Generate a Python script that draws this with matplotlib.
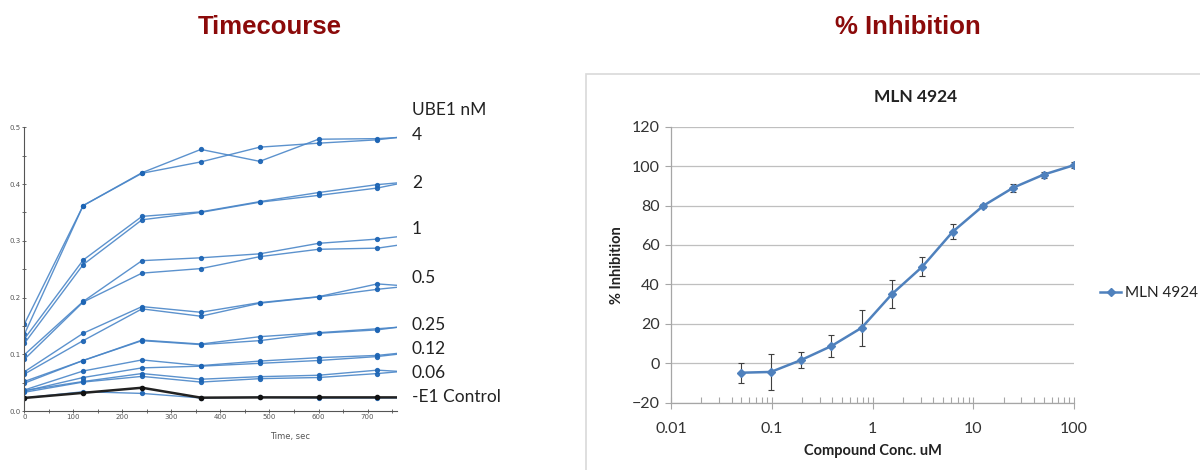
import matplotlib
matplotlib.use("Agg")
import matplotlib.pyplot as plt
import numpy as np
from matplotlib.patches import Rectangle
from matplotlib.ticker import MultipleLocator, LogLocator, NullFormatter

# ---------------- Data: Timecourse ----------------
times = [0, 120, 240, 360, 480, 600, 720, 760]
g4_a = [0.153, 0.362, 0.420, 0.461, 0.440, 0.479, 0.480, 0.482]
g4_b = [0.135, 0.362, 0.419, 0.439, 0.465, 0.472, 0.478, 0.482]
g2_a = [0.127, 0.266, 0.343, 0.351, 0.369, 0.385, 0.399, 0.402]
g2_b = [0.119, 0.258, 0.337, 0.350, 0.368, 0.380, 0.393, 0.400]
g1_a = [0.099, 0.193, 0.265, 0.270, 0.277, 0.2955, 0.303, 0.307]
g1_b = [0.091, 0.192, 0.243, 0.251, 0.272, 0.285, 0.287, 0.292]
g05_a = [0.069, 0.137, 0.184, 0.174, 0.191, 0.2015, 0.224, 0.2215]
g05_b = [0.065, 0.124, 0.180, 0.167, 0.190, 0.201, 0.2145, 0.218]
g025_a = [0.052, 0.089, 0.125, 0.118, 0.131, 0.138, 0.145, 0.1475]
g025_b = [0.049, 0.089, 0.124, 0.117, 0.124, 0.137, 0.143, 0.1475]
g012_a = [0.037, 0.0705, 0.090, 0.080, 0.088, 0.094, 0.098, 0.1015]
g012_b = [0.035, 0.059, 0.076, 0.079, 0.084, 0.089, 0.096, 0.100]
g006_a = [0.036, 0.052, 0.066, 0.056, 0.0605, 0.063, 0.072, 0.070]
g006_b = [0.033, 0.051, 0.061, 0.051, 0.057, 0.059, 0.066, 0.069]
ctrl_a = [0.023, 0.032, 0.041, 0.0235, 0.024, 0.024, 0.024, 0.024]
ctrl_b = [0.023, 0.034, 0.031, 0.023, 0.024, 0.023, 0.023, 0.023]

blue_series = [g4_a, g4_b, g2_a, g2_b, g1_a, g1_b, g05_a, g05_b,
               g025_a, g025_b, g012_a, g012_b, g006_a, g006_b, ctrl_b]

ube1_labels = ["UBE1 nM", "4", "2", "1", "0.5", "0.25", "0.12", "0.06", "-E1 Control"]

# ---------------- Data: % Inhibition ----------------
conc = [0.049, 0.098, 0.195, 0.39, 0.78, 1.56, 3.125, 6.25, 12.5, 25, 50, 100]
inhib = [-4.8, -4.4, 1.6, 8.7, 18.0, 35.1, 49.0, 66.7, 79.8, 89.1, 95.7, 100.5]
inhib_err = [5.0, 9.0, 4.0, 5.5, 9.0, 7.0, 4.8, 3.7, 1.2, 2.0, 1.5, 1.5]

W, H = 1200, 470
fig = plt.figure(figsize=(12, 4.7), dpi=100)
fig.patch.set_facecolor("white")

def fx(px):
    return px / W

def fy(py):
    return 1 - py / H

# Page titles
title_color = "#8B0A0A"
fig.text(fx(270), fy(27), "Timecourse", ha="center", va="center",
         fontsize=18.5, fontweight="bold", color=title_color, family="Liberation Sans")
fig.text(fx(908), fy(27), "% Inhibition", ha="center", va="center",
         fontsize=18.5, fontweight="bold", color=title_color, family="Liberation Sans")

# ---------------- Left chart ----------------
axL = fig.add_axes([fx(24.3), fy(411), fx(397 - 24.3), (411 - 127.3) / H])
for s in blue_series:
    axL.plot(times, s, color="#4a86c8", lw=1.0, alpha=0.9,
             marker="o", ms=2.8, mfc="#1c64b4", mec="#1c64b4", markevery=slice(0, 7))
axL.plot(times, ctrl_a, color="#222222", lw=1.8,
         marker="o", ms=3, mfc="#111111", mec="#111111", markevery=slice(0, 7))
axL.set_xlim(0, 760)
axL.set_ylim(0, 0.5)
axL.spines["top"].set_visible(False)
axL.spines["right"].set_visible(False)
for sp in ["left", "bottom"]:
    axL.spines[sp].set_color("#555555")
    axL.spines[sp].set_linewidth(0.8)
axL.xaxis.set_major_locator(MultipleLocator(100))
axL.xaxis.set_minor_locator(MultipleLocator(50))
axL.yaxis.set_major_locator(MultipleLocator(0.1))
axL.yaxis.set_minor_locator(MultipleLocator(0.05))
axL.yaxis.set_major_formatter(matplotlib.ticker.FormatStrFormatter("%.1f"))
axL.tick_params(which="both", direction="inout", length=3, width=0.6, color="#555555",
                labelsize=5, labelcolor="#555555", pad=1)
axL.set_xticks([t for t in range(0, 701, 100)])
axL.set_xlabel("Time, sec", fontsize=6, color="#555555", labelpad=3)
axL.xaxis.set_label_coords((290 - 24.3) / (397 - 24.3), -0.075)

label_y = [110, 135, 183, 229, 278, 325, 349, 373, 397]
for lab, py in zip(ube1_labels, label_y):
    fig.text(fx(412), fy(py), lab, ha="left", va="center", fontsize=12.5,
             color="#222222", family="Lato")

# ---------------- Right chart ----------------
fig.patches.append(Rectangle((fx(586), fy(480)), 1.0, fy(74) - fy(480),
                             transform=fig.transFigure, fill=False,
                             edgecolor="#d9d9d9", lw=1.2, zorder=0))

axR = fig.add_axes([fx(671), fy(402.7), fx(1074 - 671), (402.7 - 126.7) / H])
axR.set_xscale("log")
axR.set_xlim(0.01, 100)
axR.set_ylim(-20, 120)
axR.yaxis.set_major_locator(MultipleLocator(20))
axR.grid(axis="y", color="#bfbfbf", lw=0.9)
axR.set_axisbelow(True)
for sp in ["top", "right"]:
    axR.spines[sp].set_visible(False)
for sp in ["left", "bottom"]:
    axR.spines[sp].set_color("#a6a6a6")
    axR.spines[sp].set_linewidth(0.9)
axR.xaxis.set_major_locator(LogLocator(base=10, numticks=10))
axR.xaxis.set_minor_locator(LogLocator(base=10, subs=np.arange(2, 10), numticks=10))
axR.xaxis.set_minor_formatter(NullFormatter())
axR.xaxis.set_major_formatter(matplotlib.ticker.FuncFormatter(lambda v, p: f"{v:g}"))
axR.tick_params(axis="x", which="major", direction="inout", length=8, width=0.8,
                color="#a6a6a6", labelsize=11.5, labelcolor="#333333", pad=10)
axR.tick_params(axis="x", which="minor", direction="in", length=4, width=0.8,
                color="#a6a6a6")
axR.tick_params(axis="y", which="major", direction="out", length=4, width=0.8,
                color="#a6a6a6", labelsize=11.5, labelcolor="#333333", pad=4)
for lbl in axR.get_xticklabels() + axR.get_yticklabels():
    lbl.set_family("Lato")

axR.errorbar(conc, inhib, yerr=inhib_err, color="#4f81bd", lw=1.8,
             marker="D", ms=4.5, mfc="#4f81bd", mec="#4f81bd",
             ecolor="#404040", elinewidth=0.8, capsize=2.5, capthick=0.8,
             label="MLN 4924")

axR.set_ylabel("% Inhibition", fontsize=10.5, fontweight="bold", family="Lato",
               color="#222222", labelpad=6)
axR.set_xlabel("Compound Conc. uM", fontsize=10.5, fontweight="bold", family="Lato",
               color="#222222", labelpad=6)
fig.text(fx(916), fy(97), "MLN 4924", ha="center", va="center", fontsize=12.5,
         fontweight="bold", family="Lato", color="#222222")

leg = fig.legend([plt.Line2D([], [], color="#4f81bd", lw=1.8, marker="D", ms=4.5)],
                 ["MLN 4924"], loc="center left",
                 bbox_to_anchor=(fx(1100), fy(293)), frameon=False,
                 handlelength=1.4, handletextpad=0.25, borderpad=0, borderaxespad=0,
                 prop={"family": "Lato", "size": 11})
for t in leg.get_texts():
    t.set_color("#222222")

fig.savefig("out.png", dpi=100, facecolor="white")
